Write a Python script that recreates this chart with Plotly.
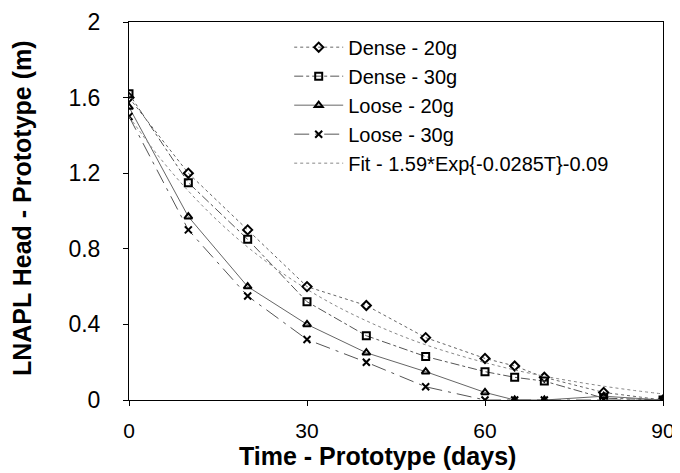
import plotly.graph_objects as go

time_days = [0, 10, 20, 30, 40, 50, 60, 65, 70, 80, 90]
dense_20g = [1.60, 1.20, 0.90, 0.60, 0.50, 0.33, 0.22, 0.18, 0.12, 0.04, 0.00]
dense_30g = [1.62, 1.15, 0.85, 0.52, 0.34, 0.23, 0.15, 0.12, 0.10, 0.01, 0.00]
loose_20g = [1.55, 0.97, 0.60, 0.40, 0.25, 0.15, 0.04, 0.00, 0.00, 0.02, 0.00]
loose_30g = [1.50, 0.90, 0.55, 0.32, 0.20, 0.07, 0.00, 0.00, 0.00, 0.00, 0.00]

fit_time = [0, 5, 10, 15, 20, 25, 30, 35, 40, 45, 50, 55, 60, 65, 70, 75, 80, 85, 90]
fit_head = [1.500, 1.289, 1.106, 0.947, 0.809, 0.690, 0.586, 0.496, 0.419, 0.351,
            0.292, 0.242, 0.198, 0.159, 0.126, 0.098, 0.073, 0.051, 0.032]

x_ticks = [0, 30, 60, 90]
y_ticks = [0, 0.4, 0.8, 1.2, 1.6, 2]
y_tick_labels = ["0", "0.4", "0.8", "1.2", "1.6", "2"]

x_title = "Time - Prototype (days)"
y_title = "LNAPL Head - Prototype (m)"

FONT = "Arial, Liberation Sans, sans-serif"

series = [
    ("Dense - 20g", dense_20g, "diamond-open", "dot", "#666666"),
    ("Dense - 30g", dense_30g, "square-open", "dashdot", "#555555"),
    ("Loose - 20g", loose_20g, "triangle-up-open", "solid", "#666666"),
    ("Loose - 30g", loose_30g, "x-thin-open", "longdashdot", "#555555"),
]

fig = go.Figure()
for name, vals, sym, dash, col in series:
    fig.add_trace(go.Scatter(
        x=time_days, y=vals, name=name, mode="lines+markers",
        line=dict(color=col, width=1, dash=dash),
        marker=dict(symbol=sym, size=7, color="black", line=dict(color="black", width=2)),
    ))

fig.add_trace(go.Scatter(
    x=fit_time, y=fit_head, name="Fit - 1.59*Exp{-0.0285T}-0.09", mode="lines",
    line=dict(color="#888888", width=1, dash="dot"), line_shape="spline",
))

# page body adds an 8px offset, so the figure is 8px smaller than the window
fig.update_layout(
    width=672, height=465,
    margin=dict(l=121, r=17, t=14, b=73, autoexpand=False),
    paper_bgcolor="white", plot_bgcolor="white",
    font=dict(family=FONT, color="black", size=22),
    showlegend=True,
    legend=dict(
        x=0.30, y=0.985, xanchor="left", yanchor="top",
        bgcolor="rgba(0,0,0,0)", font=dict(size=20, family=FONT),
        tracegroupgap=0, itemwidth=49,
    ),
    xaxis=dict(
        range=[0, 90], tickvals=x_ticks, ticks="outside", ticklen=5,
        showgrid=False, zeroline=False, showline=True, linecolor="black",
        linewidth=1, mirror=True, tickcolor="black", automargin=False,
        ticklabelstandoff=7, tickfont=dict(size=21),
    ),
    yaxis=dict(
        range=[0, 2], tickvals=y_ticks, ticktext=y_tick_labels, ticks="outside", ticklen=5,
        showgrid=False, zeroline=False, showline=True, linecolor="black",
        linewidth=1, mirror=True, tickcolor="black", automargin=False,
        ticklabelstandoff=18, tickfont=dict(size=23),
    ),
    annotations=[
        dict(text="<b>" + x_title + "</b>", xref="paper", yref="paper",
             x=0.466, y=-0.149, xanchor="center", yanchor="middle",
             showarrow=False, font=dict(size=25, family=FONT)),
        dict(text="<b>" + y_title + "</b>", xref="paper", yref="paper",
             x=-0.199, y=0.507, xanchor="center", yanchor="middle", textangle=-90,
             showarrow=False, font=dict(size=25, family=FONT)),
    ],
)

fig.write_html("out.html")
